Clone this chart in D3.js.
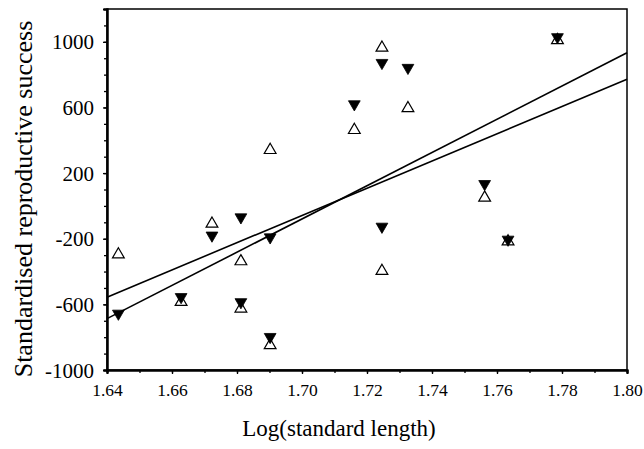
<!DOCTYPE html>
<html>
<head>
<meta charset="utf-8">
<script src="https://cdn.jsdelivr.net/npm/d3@7"></script>
<style>
  body { margin: 0; background: #fff; }
  svg { display: block; }
  text { font-family: "Liberation Serif", "DejaVu Serif", serif; fill: #000; }
</style>
</head>
<body>
<svg id="chart"></svg>
<script>
// open triangles (up)
const openX = [1.6435, 1.6628, 1.6723, 1.6812, 1.6812, 1.6902, 1.6902, 1.7161, 1.7246, 1.7246, 1.7326, 1.7562, 1.7634, 1.7786];
const openY = [-296, -586, -109, -338, -626, -849, 340, 462, 964, -397, 595, 50, -217, 1010];
// filled triangles (down)
const fillX = [1.6435, 1.6628, 1.6723, 1.6812, 1.6812, 1.6902, 1.6902, 1.7161, 1.7246, 1.7246, 1.7326, 1.7562, 1.7634, 1.7786];
const fillY = [-656, -555, -180, -69, -586, -191, -798, 620, 872, -126, 842, 134, -205, 1029];
// fitted lines, end points at x = 1.64 and 1.80
const lineEndsX = [1.64, 1.80];
const lineA = [-556, 772];
const lineB = [-687, 933];
const xLabelTicks = [1.64, 1.66, 1.68, 1.70, 1.72, 1.74, 1.76, 1.78, 1.80];
const yLabelTicks = [1000, 600, 200, -200, -600, -1000];

const width = 644, height = 449;
const margin = {top: 9, right: 17, bottom: 79, left: 107};
const innerW = width - margin.left - margin.right;
const innerH = height - margin.top - margin.bottom;

const svg = d3.select('#chart').attr('width', width).attr('height', height);
const chart = svg.append('g').attr('transform', `translate(${margin.left},${margin.top})`);

const x = d3.scaleLinear().domain([1.64, 1.80]).range([0, innerW]);
const y = d3.scaleLinear().domain([-1000, 1200]).range([innerH, 0]);

// frame
chart.append('rect')
  .attr('width', innerW).attr('height', innerH)
  .attr('fill', 'none').attr('stroke', '#000').attr('stroke-width', 1.5);

// minor ticks
const xMinor = d3.range(1.64, 1.8001, 0.01);
const yMinor = d3.range(-1000, 1201, 100);

const xAxis = chart.append('g').attr('transform', `translate(0,${innerH})`)
  .call(d3.axisBottom(x).tickValues(xMinor).tickSize(3).tickFormat(''));
const xLab = chart.append('g').attr('transform', `translate(0,${innerH})`)
  .call(d3.axisBottom(x).tickValues(xLabelTicks).tickSize(4).tickPadding(10).tickFormat(d3.format('.2f')));
const yAxis = chart.append('g')
  .call(d3.axisLeft(y).tickValues(yMinor).tickSize(3).tickFormat(''));
const yLab = chart.append('g')
  .call(d3.axisLeft(y).tickValues(yLabelTicks).tickSize(4).tickPadding(9).tickFormat(d => String(d)));

[xAxis, xLab, yAxis, yLab].forEach(g => {
  g.select('.domain').attr('stroke', '#000').attr('stroke-width', 2);
  g.selectAll('.tick line').attr('stroke', '#000').attr('stroke-width', 1.3);
});
xLab.selectAll('.tick text').attr('font-size', '17.5px').attr('font-family', '"Liberation Serif", serif');
yLab.selectAll('.tick text').attr('font-size', '21px').attr('font-family', '"Liberation Serif", serif').attr('dy', '0.34em');

// fitted lines
const line = d3.line().x(d => x(d[0])).y(d => y(d[1]));
[lineA, lineB].forEach(l => {
  chart.append('path')
    .attr('d', line(lineEndsX.map((v, i) => [v, l[i]])))
    .attr('fill', 'none').attr('stroke', '#000').attr('stroke-width', 1.6);
});

const tri = d3.symbol().type(d3.symbolTriangle).size(60);

chart.selectAll('.open')
  .data(openX.map((v, i) => [v, openY[i]]))
  .enter().append('path')
  .attr('class', 'open')
  .attr('d', tri)
  .attr('transform', d => `translate(${x(d[0])},${y(d[1])})`)
  .attr('fill', '#fff').attr('stroke', '#000').attr('stroke-width', 1.2);

chart.selectAll('.filled')
  .data(fillX.map((v, i) => [v, fillY[i]]))
  .enter().append('path')
  .attr('class', 'filled')
  .attr('d', tri)
  .attr('transform', d => `translate(${x(d[0])},${y(d[1])}) rotate(180)`)
  .attr('fill', '#000').attr('stroke', '#000').attr('stroke-width', 0.8);

// axis titles
svg.append('text')
  .attr('x', 339)
  .attr('y', 436)
  .attr('text-anchor', 'middle')
  .attr('font-size', '23px')
  .text('Log(standard length)');

svg.append('text')
  .attr('transform', `translate(32,199) rotate(-90)`)
  .attr('text-anchor', 'middle')
  .attr('font-size', '26px')
  .text('Standardised reproductive success');
</script>
</body>
</html>
